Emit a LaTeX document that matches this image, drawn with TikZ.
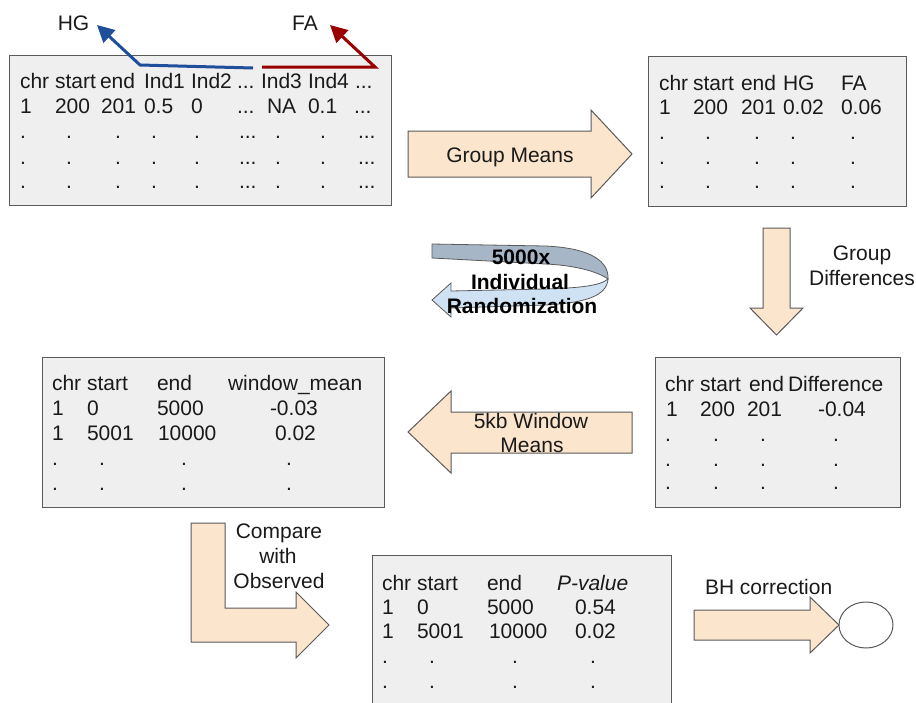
\documentclass[tikz,border=0pt]{standalone}
\usepackage{fontspec}
\setmainfont{Liberation Sans}
\usetikzlibrary{arrows.meta,shapes.geometric}
\definecolor{boxfill}{HTML}{EFEFEF}
\definecolor{boxline}{HTML}{5A5A5A}
\definecolor{peach}{HTML}{FCE5CD}
\definecolor{hgblue}{HTML}{1F4E9A}
\definecolor{fared}{HTML}{990000}
\definecolor{bandtop}{HTML}{A7B6C7}
\definecolor{bandlow}{HTML}{CFE2F3}
\definecolor{ink}{HTML}{1A1A1A}
\newcommand\mytdots{...}
\begin{document}
\begin{tikzpicture}[x=1pt,y=-1pt,
  tbl/.style={draw=boxline, fill=boxfill, line width=1.3pt, inner sep=0pt, anchor=north west},
  fat/.style={draw=boxline, fill=peach, line width=1pt, line join=miter},
  band/.style={draw=boxline, line width=0.8pt, line join=miter},
  cell/.style={inner sep=0pt, outer sep=0pt, anchor=base west, text=ink, font=\fontsize{21}{25}\selectfont},
  dotc/.style={cell, anchor=base},
  lbl/.style={cell, anchor=base},
  blbl/.style={cell, anchor=base, text=black, font=\fontsize{21}{25}\selectfont\bfseries},
  conn/.style={line width=3pt, line join=miter, -{Triangle[length=17pt,width=17pt]}}
]
\useasboundingbox (0,0) rectangle (916,702);

% ---------------- Table 1 ----------------
\node[tbl, minimum width=382pt, minimum height=150pt] (t1) at (9,55) {};
\foreach \x/\t [count=\i] in {20/chr,55/start,100/end,144/Ind1,191/Ind2,237/\mytdots,261/Ind3,308/Ind4,355/\mytdots}
  \node[cell] (ah\i) at (\x,88) {\t};
\foreach \x/\t [count=\i] in {20/1,55/200,101/201,144/0.5,191/0,237/\mytdots,267/NA,308/0.1,354/\mytdots}
  \node[cell] (ar\i) at (\x,113) {\t};
\foreach \y [count=\j] in {138,164,188}{
  \foreach \x [count=\i] in {23,69,118,154,197,278,323}
    \node[dotc] (ad\j-\i) at (\x,\y) {.};
  \node[cell] (ae\j-1) at (239,\y) {\mytdots};
  \node[cell] (ae\j-2) at (358,\y) {\mytdots};
}

% HG / FA connectors
\node[lbl] (hg) at (73.5,30.5) {HG};
\node[lbl] (fa) at (305,30.5) {FA};
\coordinate (hgs) at (253,68);
\coordinate (hgk) at (140,65);
\coordinate (hgt) at (97,25);
\coordinate (fas) at (262,67);
\coordinate (fak) at (375,67);
\coordinate (fat) at (330,25);
\draw[conn, hgblue] (hgs) -- (hgk) -- (hgt);
\draw[conn, fared] (fas) -- (fak) -- (fat);

% ---------------- Group Means arrow ----------------
\draw[fat] (408,131) -- (591,131) -- (591,110) -- (632,154) -- (591,198) -- (591,177) -- (408,177) -- cycle;
\node[lbl] (gm) at (510,162) {Group Means};

% ---------------- Table 2 ----------------
\node[tbl, minimum width=258pt, minimum height=150pt] (t2) at (648,56) {};
\foreach \x/\t [count=\i] in {659/chr,693/start,741/end,783/HG,841/FA}
  \node[cell] (bh\i) at (\x,90) {\t};
\foreach \x/\t [count=\i] in {659/1,693/200,741/201,783/0.02,841/0.06}
  \node[cell] (br\i) at (\x,114) {\t};
\foreach \y [count=\j] in {139,164,188}
  \foreach \x [count=\i] in {662,708,757,793,853}
    \node[dotc] (bd\j-\i) at (\x,\y) {.};

% ---------------- Group Differences arrow ----------------
\draw[fat] (763,228) -- (790,228) -- (790,308) -- (803,308) -- (776.5,335) -- (750,308) -- (763,308) -- cycle;
\node[lbl] (gd1) at (862,260) {Group};
\node[lbl] (gd2) at (862,285) {Differences};

% ---------------- Randomization circular arrow ----------------
\draw[band, fill=bandtop] (432,244) -- (545,246) .. controls (592,248) and (609,262) .. (608,279)
  .. controls (597,271) and (572,265) .. (545,264) -- (432,258) -- cycle;
\draw[band, fill=bandlow] (608,279) .. controls (607,296) and (585,303) .. (545,305) -- (451,308)
  -- (451,317) -- (432,300) -- (451,283) -- (451,291) -- (545,289)
  .. controls (578,288) and (600,286) .. (608,279) -- cycle;
\node[blbl] (rn1) at (521,264) {5000x};
\node[blbl] (rn2) at (520,289) {Individual};
\node[blbl] (rn3) at (522,313) {Randomization};

% ---------------- Table 3 ----------------
\node[tbl, minimum width=342pt, minimum height=150pt] (t3) at (42,357) {};
\foreach \x/\t [count=\i] in {52/chr,87/start,157/end,228/window\_mean}
  \node[cell] (ch\i) at (\x,390.5) {\t};
\foreach \x/\t [count=\i] in {52/1,87/0,157/5000,270/-0.03}
  \node[cell] (cr\i) at (\x,415.5) {\t};
\foreach \x/\t [count=\i] in {52/1,87/5001,158/10000,275/0.02}
  \node[cell] (cs\i) at (\x,440.5) {\t};
\foreach \y [count=\j] in {465,490}
  \foreach \x [count=\i] in {55,102,184,289}
    \node[dotc] (cd\j-\i) at (\x,\y) {.};

% ---------------- 5kb Window arrow ----------------
\draw[fat] (632,412) -- (451,412) -- (451,391) -- (408,432) -- (451,473) -- (451,453) -- (632,453) -- cycle;
\node[lbl] (kb1) at (531,428) {5kb Window};
\node[lbl] (kb2) at (532,452) {Means};

% ---------------- Table 4 ----------------
\node[tbl, minimum width=245pt, minimum height=150pt] (t4) at (655,357) {};
\foreach \x/\t [count=\i] in {665/chr,700/start,749/end,788/Difference}
  \node[cell] (dh\i) at (\x,391.5) {\t};
\foreach \x/\t [count=\i] in {666/1,700/200,747/201,818/-0.04}
  \node[cell] (dr\i) at (\x,416.5) {\t};
\foreach \y [count=\j] in {441,466,489}
  \foreach \x [count=\i] in {668,716,763,836}
    \node[dotc] (dd\j-\i) at (\x,\y) {.};

% ---------------- Compare arrow ----------------
\draw[fat] (191,523) -- (225,523) -- (225,608) -- (296,608) -- (296,592) -- (329,625) -- (296,658) -- (296,642) -- (191,642) -- cycle;
\node[lbl] (cw1) at (279,538) {Compare};
\node[lbl] (cw2) at (278,563) {with};
\node[lbl] (cw3) at (279,588) {Observed};

% ---------------- Table 5 ----------------
\begin{scope}
\clip (0,0) rectangle (916,702);
\node[tbl, minimum width=299pt, minimum height=170pt] (t5) at (372,555) {};
\end{scope}
\foreach \x/\t [count=\i] in {382/chr,417/start,487/end,557/\textit{P-value}}
  \node[cell] (eh\i) at (\x,590) {\t};
\foreach \x/\t [count=\i] in {382/1,417/0,487/5000,575/0.54}
  \node[cell] (er\i) at (\x,614) {\t};
\foreach \x/\t [count=\i] in {382/1,417/5001,489/10000,575/0.02}
  \node[cell] (es\i) at (\x,638) {\t};
\foreach \y [count=\j] in {663,688}
  \foreach \x [count=\i] in {385,432,515,593}
    \node[dotc] (ed\j-\i) at (\x,\y) {.};

% ---------------- BH correction ----------------
\draw[fat] (694,610) -- (810,610) -- (810,597) -- (839,625) -- (810,653) -- (810,640) -- (694,640) -- cycle;
\node[lbl, anchor=base west] (bh) at (705,594) {BH correction};
\node[draw=boxline, fill=white, line width=1pt, ellipse, minimum width=54pt, minimum height=46pt, inner sep=0pt] (end) at (866,625) {};
\end{tikzpicture}
\end{document}
